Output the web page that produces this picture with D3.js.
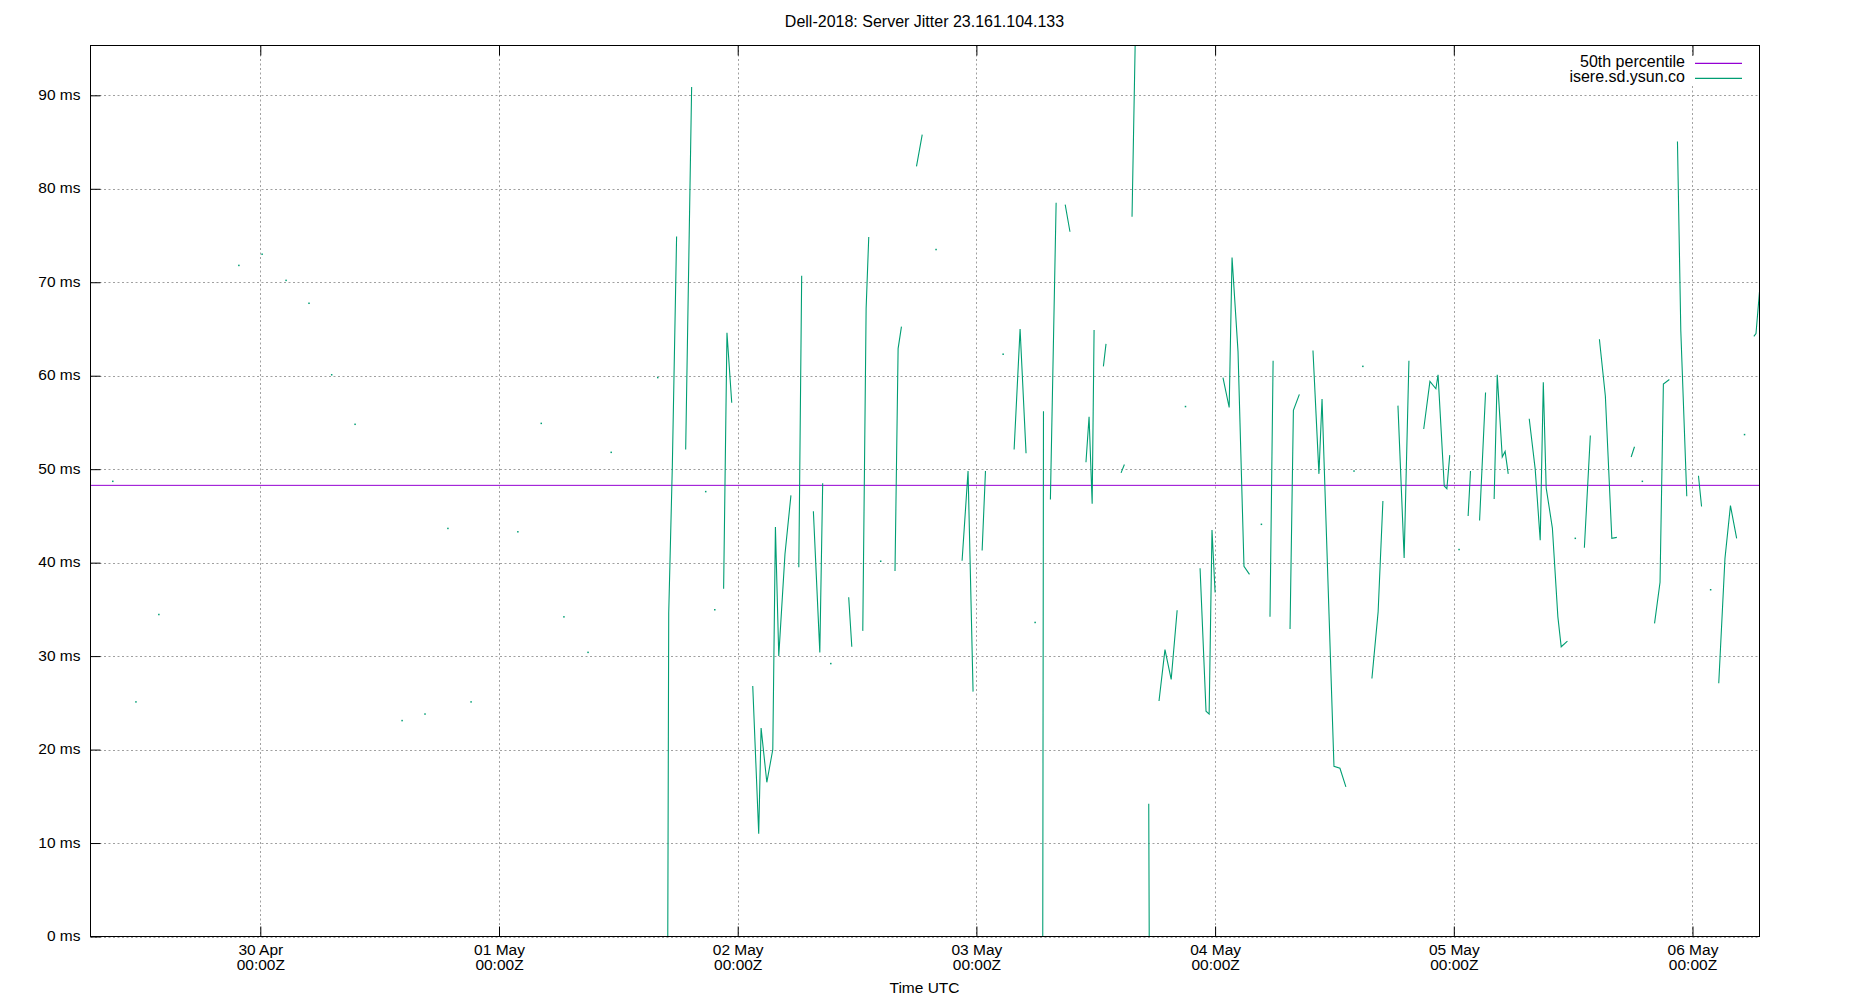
<!DOCTYPE html>
<html><head><meta charset="utf-8">
<script src="https://cdn.jsdelivr.net/npm/d3@7"></script>
<style>
body{margin:0;background:#fff}
svg{display:block}
text{font-family:"Liberation Sans",Arial,sans-serif;fill:#000}
</style>
</head><body>
<svg id="chart" width="1850" height="1000"></svg>
<script>
// ---------------- data ----------------
const chartTitle = "Dell-2018: Server Jitter 23.161.104.133";
const xAxisLabel = "Time UTC";
const seriesNames = ["50th percentile", "isere.sd.ysun.co"];
const seriesColors = ["#9400d3", "#009e73"];
const percentile50Ms = 48.27;

const yTickValues = [0, 10, 20, 30, 40, 50, 60, 70, 80, 90];
const yTickSuffix = " ms";
const xTickDays = [0, 1, 2, 3, 4, 5, 6];            // days after 30 Apr 00:00Z
const xTickLine1 = ["30 Apr", "01 May", "02 May", "03 May", "04 May", "05 May", "06 May"];
const xTickLine2 = ["00:00Z", "00:00Z", "00:00Z", "00:00Z", "00:00Z", "00:00Z", "00:00Z"];
const xDomainDays = [-0.7114, 6.2807];
const yDomainMs = [0, 95.33];

// sample time (days after 30 Apr 00:00Z); null marks a gap in the series
const sampleDay = [
  -0.618, null, -0.521, null, -0.425, null, -0.0898, null, 0.0075, null, 0.108, null,
  0.204, null, 0.299, null, 0.397, null, 0.594, null, 0.690, null, 0.786, null,
  0.883, null, 1.079, null, 1.177, null, 1.272, null, 1.373, null, 1.470, null, 1.665, null,
  1.707, 1.711, 1.726, 1.744, null,
  1.782, 1.807, null,
  1.866, null, 1.904, null,
  1.941, 1.955, 1.975, null,
  2.063, 2.088, 2.098, 2.122, 2.147, 2.158, 2.172, 2.198, 2.223, null,
  2.256, 2.268, null,
  2.317, 2.344, 2.356, null,
  2.390, null,
  2.465, 2.478, null,
  2.524, 2.538, 2.549, null,
  2.599, null,
  2.659, 2.672, 2.686, null,
  2.749, 2.773, null,
  2.831, null,
  2.940, 2.965, 2.986, null,
  3.024, 3.038, null,
  3.112, null,
  3.158, 3.183, 3.208, null,
  3.246, null,
  3.278, 3.281, null,
  3.310, 3.334, null,
  3.372, 3.392, null,
  3.459, 3.472, 3.485, 3.493, null,
  3.532, 3.543, null,
  3.606, 3.620, null,
  3.652, 3.668, null,
  3.722, 3.724, null,
  3.765, 3.790, 3.816, 3.841, null,
  3.876, null,
  3.937, 3.962, 3.975, 3.987, 4.000, null,
  4.033, 4.059, 4.071, 4.096, 4.121, 4.144, null,
  4.194, null,
  4.230, 4.243, null,
  4.314, 4.328, 4.353, null,
  4.410, 4.435, 4.448, 4.498, 4.523, 4.548, null,
  4.582, null, 4.619, null,
  4.657, 4.683, 4.703, null,
  4.766, 4.792, 4.812, null,
  4.874, 4.900, 4.925, 4.934, 4.960, 4.971, 4.983, null,
  5.022, null,
  5.060, 5.070, null,
  5.108, 5.133, null,
  5.169, 5.182, 5.203, 5.215, 5.228, null,
  5.316, 5.341, 5.362, 5.375, 5.387, 5.413, 5.436, 5.450, 5.476, null,
  5.509, null,
  5.547, 5.572, null,
  5.610, 5.635, 5.662, 5.683, null,
  5.743, 5.757, null,
  5.790, null,
  5.841, 5.864, 5.878, 5.903, null,
  5.937, 5.951, 5.976, null,
  6.025, 6.038, null,
  6.076, null,
  6.110, 6.136, 6.159, 6.185, null,
  6.218, null,
  6.257, 6.266, 6.284
];

// jitter in ms for isere.sd.ysun.co (null = gap)
const jitterMs = [
  48.7, null, 25.1, null, 34.45, null, 71.8, null, 73.0, null, 70.2, null,
  67.75, null, 60.1, null, 54.8, null, 23.1, null, 23.8, null, 43.66, null,
  25.1, null, 43.3, null, 54.9, null, 34.2, null, 30.4, null, 51.8, null, 59.8, null,
  0, 34.6, 50.2, 74.9, null,
  52.1, 90.9, null,
  47.6, null, 34.96, null,
  37.2, 64.6, 57.1, null,
  26.8, 11.0, 22.3, 16.5, 20.0, 43.8, 30.0, 40.9, 47.2, null,
  39.5, 70.7, null,
  45.5, 30.4, 48.5, null,
  29.2, null,
  36.3, 31.0, null,
  32.7, 67.2, 74.85, null,
  40.15, null,
  39.1, 62.9, 65.25, null,
  82.4, 85.8, null,
  73.5, null,
  40.2, 49.8, 26.2, null,
  41.3, 49.8, null,
  62.3, null,
  52.1, 65.0, 51.7, null,
  33.6, null,
  0, 56.2, null,
  46.75, 78.5, null,
  78.3, 75.4, null,
  50.75, 55.6, 46.3, 64.9, null,
  61.0, 63.4, null,
  49.6, 50.5, null,
  77.0, 99.5, null,
  14.2, 0, null,
  25.2, 30.7, 27.5, 34.9, null,
  56.7, null,
  39.4, 24.1, 23.8, 43.5, 36.8, null,
  59.8, 56.6, 72.65, 62.6, 39.6, 38.75, null,
  44.1, null,
  34.2, 61.6, null,
  32.9, 56.3, 58.0, null,
  62.7, 49.5, 57.5, 18.2, 18.0, 16.0, null,
  49.8, null, 61.0, null,
  27.6, 34.75, 46.6, null,
  56.8, 40.5, 61.6, null,
  54.3, 59.4, 58.6, 60.1, 48.2, 47.9, 51.5, null,
  41.4, null,
  45.0, 49.8, null,
  44.5, 58.2, null,
  46.8, 60.1, 51.3, 51.9, 49.5, null,
  55.4, 50.0, 42.4, 59.3, 48.0, 43.7, 34.2, 31.0, 31.6, null,
  42.6, null,
  41.6, 53.6, null,
  63.9, 57.8, 42.6, 42.7, null,
  51.3, 52.4, null,
  48.7, null,
  33.5, 37.9, 59.1, 59.6, null,
  85.05, 64.8, 47.1, null,
  49.3, 46.0, null,
  37.1, null,
  27.1, 40.45, 46.1, 42.6, null,
  53.7, null,
  64.2, 64.5, 70.0
];

// ---------------- drawing ----------------
const epoch = Date.UTC(2024, 3, 30);
const dayMs = 86400000;
const toDate = d => new Date(epoch + d * dayMs);

const plot = {left: 90.5, right: 1759.5, top: 45.5, bottom: 936.5};
const svg = d3.select("#chart");

const x = d3.scaleUtc().domain(xDomainDays.map(toDate)).range([plot.left, plot.right]);
const y = d3.scaleLinear().domain(yDomainMs).range([plot.bottom, plot.top]);

const points = sampleDay.map((d, i) => ({t: d == null ? null : toDate(d), v: jitterMs[i]}));

// clip
svg.append("defs").append("clipPath").attr("id", "clip")
  .append("rect").attr("x", plot.left).attr("y", plot.top)
  .attr("width", plot.right - plot.left).attr("height", plot.bottom - plot.top);

// grid
const grid = svg.append("g").attr("stroke", "#a0a0a0").attr("stroke-width", 1)
  .attr("stroke-dasharray", "2,2.5").attr("fill", "none");
yTickValues.forEach(v => {
  const yy = Math.round(y(v)) + 0.5;
  grid.append("line").attr("x1", plot.left).attr("x2", plot.right).attr("y1", yy).attr("y2", yy);
});
xTickDays.forEach(d => {
  const xx = Math.round(x(toDate(d))) + 0.5;
  grid.append("line").attr("x1", xx).attr("x2", xx).attr("y1", plot.top).attr("y2", plot.bottom);
});

// legend background (key box masks the grid)
svg.append("rect").attr("x", 1560).attr("y", 56).attr("width", 198.5).attr("height", 30).attr("fill", "#fff");

// 50th percentile line
svg.append("line")
  .attr("x1", plot.left).attr("x2", plot.right)
  .attr("y1", y(percentile50Ms)).attr("y2", y(percentile50Ms))
  .attr("stroke", seriesColors[0]).attr("stroke-width", 1);

// jitter series
const line = d3.line()
  .defined(p => p.v != null && p.t != null)
  .x(p => x(p.t)).y(p => y(p.v));
const dataG = svg.append("g").attr("clip-path", "url(#clip)");
dataG.append("path").datum(points)
  .attr("d", line).attr("fill", "none")
  .attr("stroke", seriesColors[1]).attr("stroke-width", 1.1)
  .attr("stroke-linejoin", "miter");
// isolated samples drawn as single dots
const isolated = points.filter((p, i) => p.v != null &&
  (i === 0 || points[i - 1].v == null) && (i === points.length - 1 || points[i + 1].v == null));
dataG.selectAll("rect.dot").data(isolated).join("rect").attr("class", "dot")
  .attr("x", p => x(p.t) - 0.75).attr("y", p => y(p.v) - 0.75)
  .attr("width", 1.5).attr("height", 1.5).attr("fill", seriesColors[1]);

// border
svg.append("rect").attr("x", plot.left).attr("y", plot.top)
  .attr("width", plot.right - plot.left).attr("height", plot.bottom - plot.top)
  .attr("fill", "none").attr("stroke", "#000").attr("stroke-width", 1);

// y axis (left ticks inward)
const yAxis = d3.axisLeft(y).tickValues(yTickValues).tickSize(-10).tickPadding(10)
  .tickFormat(v => v + yTickSuffix);
const yg = svg.append("g").attr("transform", `translate(${plot.left},0)`).call(yAxis);
yg.select(".domain").remove();
yg.selectAll(".tick line").attr("stroke", "#000");
yg.selectAll(".tick text").attr("font-size", 15.5).attr("fill", "#000")
  .attr("x", -10).attr("dy", null).attr("y", 4)
  .style("font-family", '"Liberation Sans", Arial, sans-serif');

// x axis bottom (ticks inward)
const xTickDates = xTickDays.map(toDate);
const xAxis = d3.axisBottom(x).tickValues(xTickDates).tickSize(-10).tickFormat(() => "");
const xg = svg.append("g").attr("transform", `translate(0,${plot.bottom})`).call(xAxis);
xg.select(".domain").remove();
xg.selectAll(".tick line").attr("stroke", "#000");
xg.selectAll(".tick text").remove();
xg.selectAll(".tick").each(function(d, i) {
  const t = d3.select(this).append("text").attr("text-anchor", "middle")
    .attr("font-size", 15.5).style("font-family", '"Liberation Sans", Arial, sans-serif');
  t.append("tspan").attr("x", 0).attr("y", 18).text(xTickLine1[i]);
  t.append("tspan").attr("x", 0).attr("y", 33.5).text(xTickLine2[i]);
});
// x axis top mirror ticks
const xTop = d3.axisTop(x).tickValues(xTickDates).tickSize(-10).tickFormat(() => "");
const xtg = svg.append("g").attr("transform", `translate(0,${plot.top})`).call(xTop);
xtg.select(".domain").remove();
xtg.selectAll(".tick line").attr("stroke", "#000");

// title and axis label
svg.append("text").attr("x", 924.5).attr("y", 27.3).attr("text-anchor", "middle")
  .attr("font-size", 16).text(chartTitle);
svg.append("text").attr("x", 924.5).attr("y", 992.5).attr("text-anchor", "middle")
  .attr("font-size", 15.5).text(xAxisLabel);

// legend
const legendY = [66.7, 81.7];
seriesNames.forEach((name, i) => {
  svg.append("text").attr("x", 1685).attr("y", legendY[i]).attr("text-anchor", "end")
    .attr("font-size", 16).text(name);
  svg.append("line").attr("x1", 1695).attr("x2", 1742)
    .attr("y1", legendY[i] - 3.4).attr("y2", legendY[i] - 3.4)
    .attr("stroke", seriesColors[i]).attr("stroke-width", 1.2);
});
</script>
</body></html>
